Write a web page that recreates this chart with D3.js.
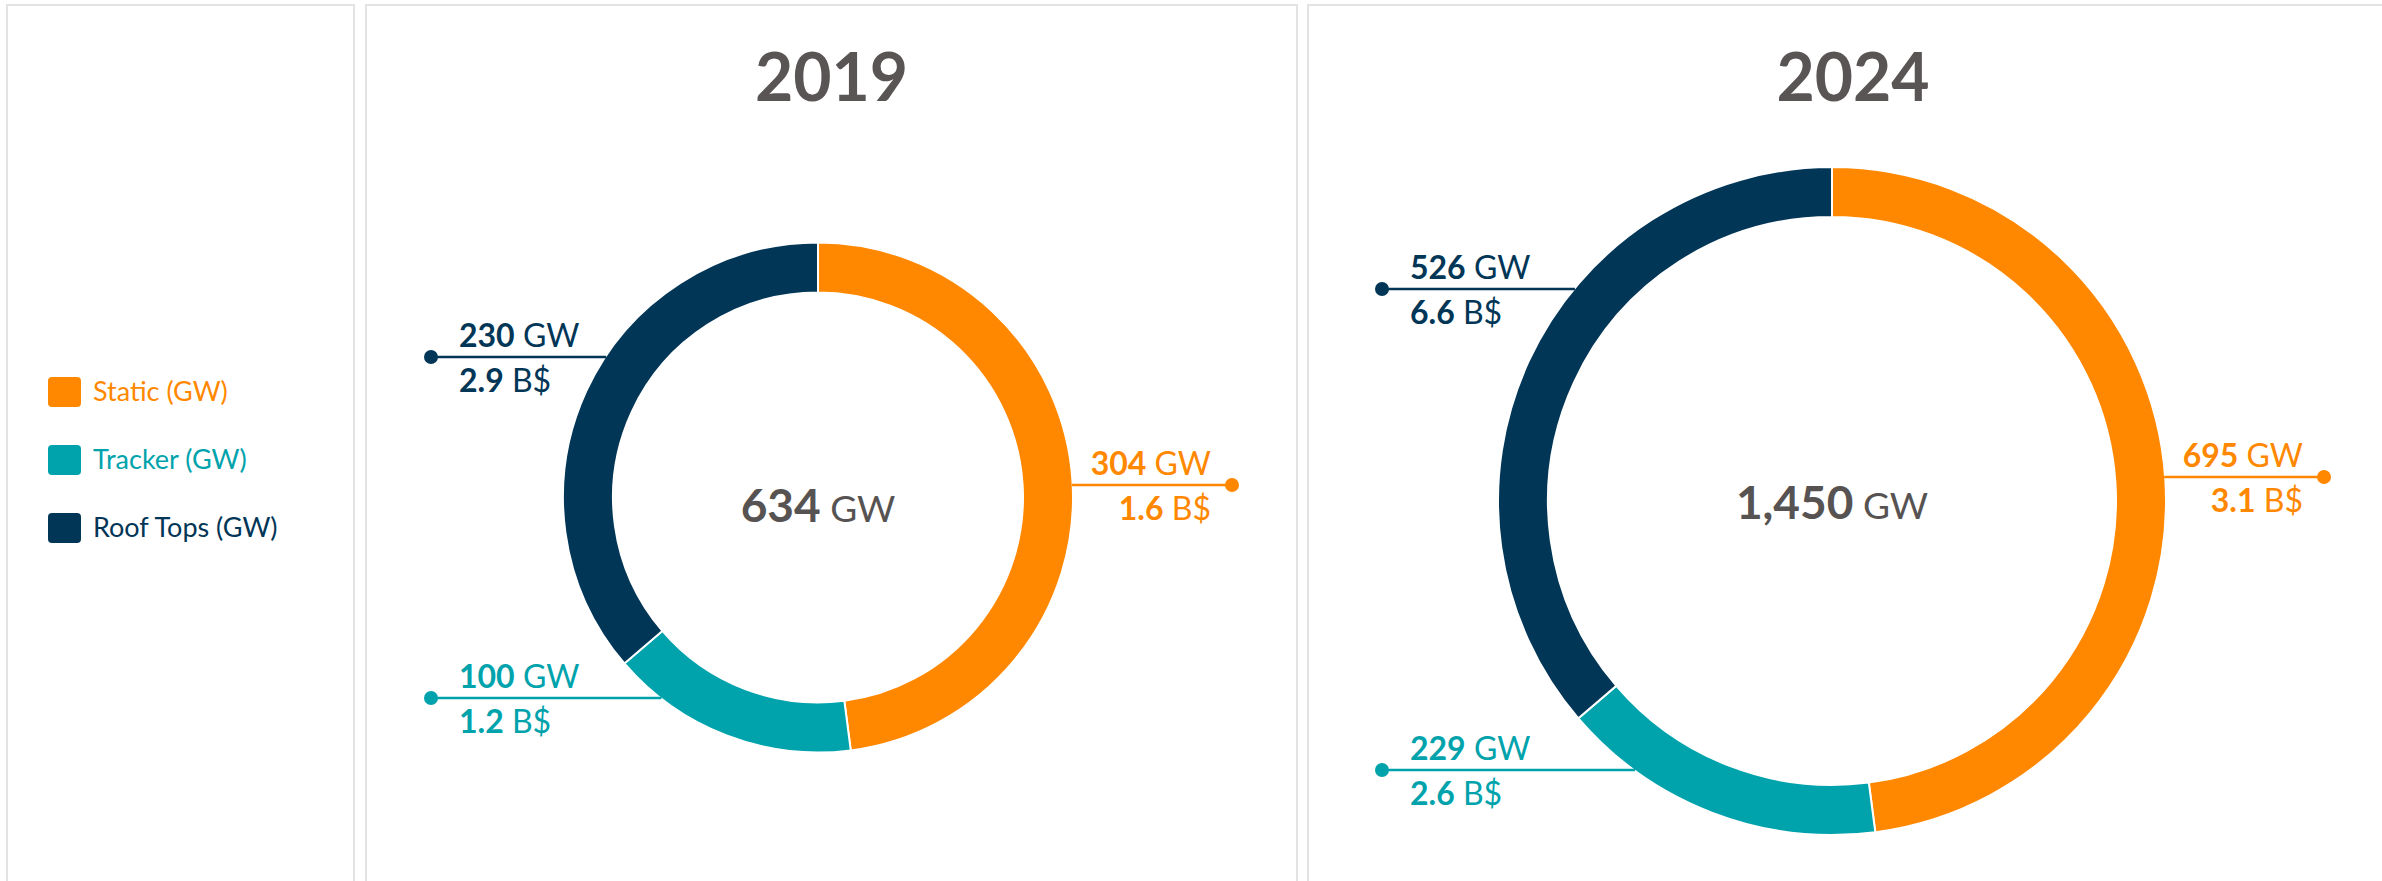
<!DOCTYPE html>
<html>
<head>
<meta charset="utf-8">
<script src="https://cdn.jsdelivr.net/npm/d3@7"></script>
<style>
  body { margin: 0; background: #fff; }
  svg { display: block; font-family: 'Lato', 'Open Sans', sans-serif; }
</style>
</head>
<body>
<svg id="chart" width="2382" height="881"></svg>
<script>
// Data
const categories = ['Static (GW)', 'Tracker (GW)', 'Roof Tops (GW)'];
const years = ['2019', '2024'];
const gw2019 = [304, 100, 230];
const gw2024 = [695, 229, 526];
const bn2019 = [1.6, 1.2, 2.9];
const bn2024 = [3.1, 2.6, 6.6];
const colors = ['#ff8800', '#00a3ac', '#023657'];

const svg = d3.select('#chart');
const fmt = d3.format(',');

// Panel layout (boxes, ring geometry and label line offsets)
const panels = [
  { year: years[0], gw: gw2019, bn: bn2019, x0: 366, x1: 1297, cx: 818, cy: 497.5, r: 255, ri: 205,
    leftDot: -387, rightDot: 414, lineDy: [-12.5, 200.5, -140.5], totalDy: 24 },
  { year: years[1], gw: gw2024, bn: bn2024, x0: 1308, x1: 2398, cx: 1832, cy: 501, r: 334, ri: 284,
    leftDot: -450, rightDot: 492, lineDy: [-24, 269, -212], totalDy: 18 }
];

// Legend box
svg.append('rect')
  .attr('x', 7).attr('y', 5).attr('width', 347).attr('height', 900)
  .attr('fill', '#fff').attr('stroke', '#e3e3e3').attr('stroke-width', 2);

const legend = svg.append('g').selectAll('g')
  .data(categories)
  .join('g')
  .attr('transform', (d, i) => `translate(48, ${392 + i * 68})`);

legend.append('rect')
  .attr('x', 0).attr('y', -15).attr('width', 33).attr('height', 30).attr('rx', 4)
  .attr('fill', (d, i) => colors[i]);

legend.append('text')
  .attr('x', 45).attr('y', 9)
  .attr('font-size', 27)
  .attr('fill', (d, i) => colors[i])
  .text(d => d);

const pie = d3.pie().sort(null).value(d => d);

panels.forEach(p => {
  // Panel frame
  svg.append('rect')
    .attr('x', p.x0).attr('y', 5).attr('width', p.x1 - p.x0).attr('height', 900)
    .attr('fill', '#fff').attr('stroke', '#e3e3e3').attr('stroke-width', 2);

  // Year title
  svg.append('text')
    .attr('x', (p.x0 + p.x1) / 2).attr('y', 101)
    .attr('text-anchor', 'middle')
    .attr('font-size', 66).attr('font-weight', 700)
    .attr('fill', '#595554')
    .text(p.year);

  const g = svg.append('g').attr('transform', `translate(${p.cx},${p.cy})`);
  const arc = d3.arc().innerRadius(p.ri).outerRadius(p.r);

  g.selectAll('path')
    .data(pie(p.gw))
    .join('path')
    .attr('d', arc)
    .attr('fill', (d, i) => colors[i])
    .attr('stroke', '#fff')
    .attr('stroke-width', 2);

  // Total in the middle
  const total = g.append('text')
    .attr('x', 0).attr('y', p.totalDy)
    .attr('text-anchor', 'middle')
    .attr('fill', '#575352');
  total.append('tspan').attr('font-size', 46).attr('font-weight', 700).text(fmt(d3.sum(p.gw)));
  total.append('tspan').attr('font-size', 37).text(' GW');

  // Callout labels
  p.gw.forEach((v, i) => {
    const dy = p.lineDy[i];
    const right = i === 0;
    const edge = Math.sqrt(p.r * p.r - dy * dy);
    const ringX = right ? edge - 1 : -edge + 1;
    const dotX = right ? p.rightDot : p.leftDot;

    g.append('line')
      .attr('x1', ringX).attr('x2', dotX)
      .attr('y1', dy).attr('y2', dy)
      .attr('stroke', colors[i]).attr('stroke-width', 2.5);

    g.append('circle')
      .attr('cx', dotX).attr('cy', dy).attr('r', 7)
      .attr('fill', colors[i]);

    const tx = right ? dotX - 21 : dotX + 28;
    const anchor = right ? 'end' : 'start';

    const t1 = g.append('text')
      .attr('x', tx).attr('y', dy - 10)
      .attr('text-anchor', anchor)
      .attr('font-size', 32)
      .attr('fill', colors[i]);
    t1.append('tspan').attr('font-weight', 700).text(fmt(v));
    t1.append('tspan').text(' GW');

    const t2 = g.append('text')
      .attr('x', tx).attr('y', dy + 35)
      .attr('text-anchor', anchor)
      .attr('font-size', 32)
      .attr('fill', colors[i]);
    t2.append('tspan').attr('font-weight', 700).text(d3.format('.1f')(p.bn[i]));
    t2.append('tspan').text(' B$');
  });
});
</script>
</body>
</html>
